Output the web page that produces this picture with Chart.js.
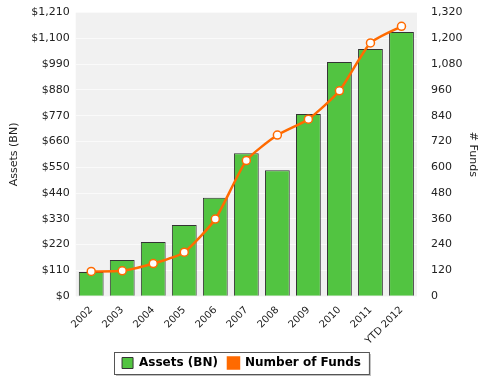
<!DOCTYPE html>
<html lang="en">
  <head>
    <meta charset="utf-8" />
    <script src="https://cdn.jsdelivr.net/npm/chart.js"></script>
    <title>index</title>
    <style>
      html, body { margin: 0; padding: 0; background: #fff; }
      #wrap { width: 487px; height: 385px; }
    </style>
  </head>
  <body>
    <div id="wrap"><canvas id="myChart"></canvas></div>
    <script>
      const years = ["2002", "2003", "2004", "2005", "2006", "2007", "2008", "2009", "2010", "2011", "YTD 2012"];
      const assets = [103, 154, 231, 304, 420, 610, 537, 777, 999, 1055, 1127];
      const funds = [115, 118, 152, 205, 359, 631, 750, 824, 956, 1179, 1256];

      const fontFam = "'DejaVu Sans', Verdana, sans-serif";

      // grey plot background + box round the legend
      const decor = {
        id: "decor",
        beforeDraw(chart) {
          const { ctx, chartArea: a } = chart;
          ctx.save();
          ctx.fillStyle = "#f1f1f1";
          ctx.fillRect(a.left, a.top, a.right - a.left, a.bottom - a.top);
          ctx.restore();
        },
        afterDraw(chart) {
          const lg = chart.legend;
          const boxes = lg.legendHitBoxes;
          if (!boxes.length) return;
          const x0 = boxes[0].left - 8;
          const last = boxes[boxes.length - 1];
          const x1 = last.left + last.width + 8;
          const y0 = boxes[0].top - 5;
          const y1 = boxes[0].top + boxes[0].height + 5;
          const ctx = chart.ctx;
          ctx.save();
          ctx.fillStyle = "rgba(0,0,0,0.25)";
          ctx.fillRect(x0 + 2, y0 + 2, x1 - x0, y1 - y0);
          ctx.fillStyle = "#fff";
          ctx.fillRect(x0, y0, x1 - x0, y1 - y0);
          ctx.strokeStyle = "#555";
          ctx.lineWidth = 1;
          ctx.strokeRect(Math.round(x0) + 0.5, Math.round(y0) + 0.5, x1 - x0, y1 - y0);
          ctx.restore();
          lg.draw();
        },
      };

      const data = {
        labels: years,
        datasets: [
          {
            type: "line",
            label: "Number of Funds",
            data: funds,
            yAxisID: "y1",
            borderColor: "#ff6a00",
            backgroundColor: "#ff6a00",
            borderWidth: 2.5,
            tension: 0.2,
            pointRadius: 4,
            pointBackgroundColor: "#fff",
            pointBorderColor: "#ff6a00",
            pointBorderWidth: 1.5,
            order: 0,
          },
          {
            type: "bar",
            label: "Assets (BN)",
            data: assets,
            yAxisID: "y",
            backgroundColor: "#52c441",
            borderColor: "#333",
            borderWidth: 1,
            categoryPercentage: 1,
            barPercentage: 0.8,
            order: 1,
          },
        ],
      };

      const config = {
        data: data,
        plugins: [decor],
        options: {
          responsive: true,
          maintainAspectRatio: false,
          animation: false,
          layout: { padding: { left: 4, right: 8, top: 6, bottom: 6 } },
          plugins: {
            legend: {
              position: "bottom",
              reverse: true,
              labels: {
                color: "#000",
                boxWidth: 11,
                boxHeight: 11,
                padding: 10,
                font: { family: fontFam, size: 12, weight: "bold" },
              },
            },
            tooltip: { enabled: false },
          },
          scales: {
            x: {
              grid: { display: false },
              border: { display: false },
              ticks: {
                color: "#222",
                maxRotation: 45,
                minRotation: 45,
                padding: 0,
                font: { family: fontFam, size: 10 },
              },
            },
            y: {
              position: "left",
              min: 0,
              max: 1210,
              grid: { color: "#fafafa", drawTicks: false },
              border: { display: false },
              ticks: {
                stepSize: 110,
                padding: 6,
                color: "#222",
                font: { family: fontFam, size: 11 },
                callback: (v) => "$" + v.toLocaleString("en-US"),
              },
              title: {
                display: true,
                text: "Assets (BN)",
                color: "#222",
                font: { family: fontFam, size: 11 },
              },
            },
            y1: {
              position: "right",
              min: 0,
              max: 1320,
              grid: { display: false },
              border: { display: false },
              afterFit: (s) => { s.width = 62; },
              ticks: {
                stepSize: 120,
                padding: 6,
                color: "#222",
                font: { family: fontFam, size: 11 },
                callback: (v) => v.toLocaleString("en-US"),
              },
              title: {
                display: true,
                text: "# Funds",
                color: "#222",
                padding: { top: 0, bottom: 4 },
                font: { family: fontFam, size: 11 },
              },
            },
          },
        },
      };

      var myChart = new Chart(document.getElementById("myChart"), config);
    </script>
  </body>
</html>
